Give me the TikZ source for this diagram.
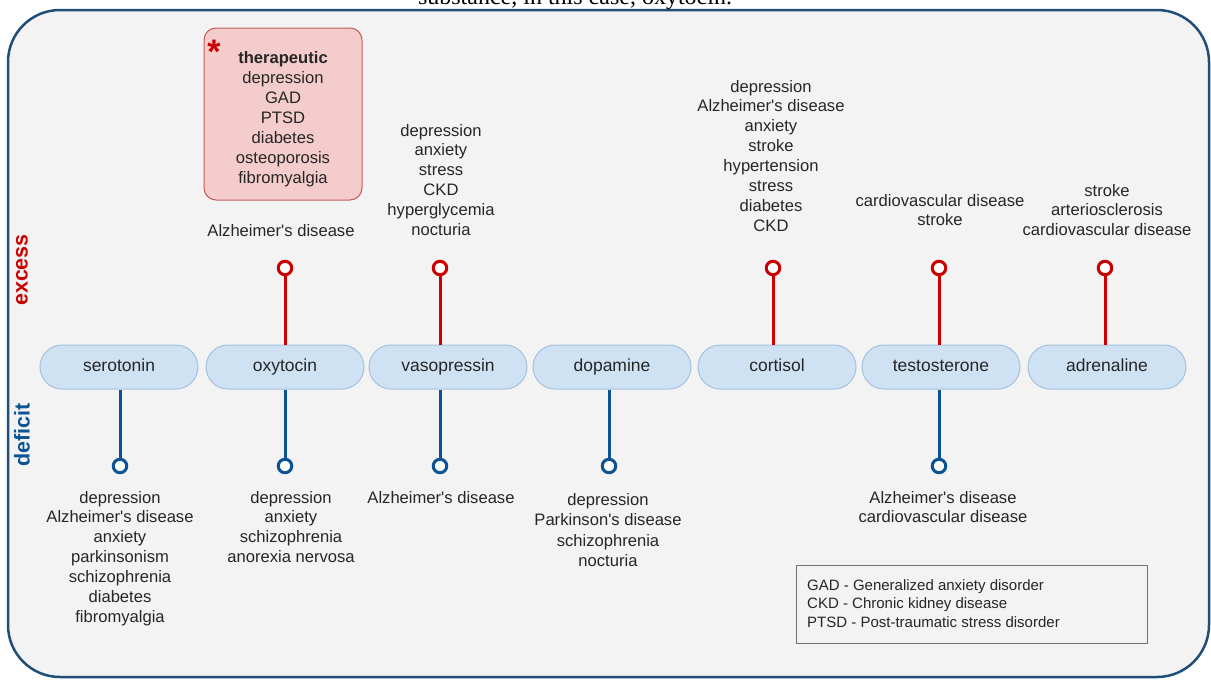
\documentclass[tikz,border=0pt]{standalone}
\usepackage{fontspec}
\setmainfont{Liberation Sans}
\newfontfamily\capfont{Liberation Serif}
\definecolor{bg}{HTML}{F3F3F3}
\definecolor{frameblue}{HTML}{1F4E79}
\definecolor{nodefill}{HTML}{CFE2F3}
\definecolor{nodeedge}{HTML}{A4C2E0}
\definecolor{exred}{HTML}{CC0000}
\definecolor{defblue}{HTML}{0B5394}
\definecolor{boxfill}{HTML}{F4CCCC}
\definecolor{boxred}{HTML}{C85A5A}
\definecolor{txt}{HTML}{262626}
\definecolor{legendgray}{HTML}{707070}
\newcommand\apos{\textquotesingle}
\begin{document}
\begin{tikzpicture}[x=1pt,y=-1pt,
  hormone/.style={draw=nodeedge, fill=nodefill, line width=1pt, rounded corners=22pt,
    minimum width=158pt, minimum height=44pt, inner sep=0pt,
    text height=12.5pt, text depth=3.5pt,
    font=\fontsize{17.5}{20}\selectfont, text=txt},
  list/.style={align=center, anchor=base, inner sep=0pt,
    font=\fontsize{16.6}{19.9}\selectfont, text=txt},
  excesscap/.style={circle, draw=exred, line width=3pt, fill=white,
    minimum size=13.5pt, inner sep=0pt},
  deficitcap/.style={circle, draw=defblue, line width=3pt, fill=white,
    minimum size=13.5pt, inner sep=0pt},
  excessline/.style={draw=exred, line width=3pt},
  deficitline/.style={draw=defblue, line width=3pt},
  sidelabel/.style={rotate=90, font=\bfseries\fontsize{21.5}{21.5}\selectfont}]

\useasboundingbox (0,0) rectangle (1211,680);
\clip (0,0) rectangle (1211,680);
\fill[white] (0,0) rectangle (1211,680);

% caption line running off the top edge
\node[anchor=base, inner sep=0pt, font=\capfont\fontsize{24}{24}\selectfont] (caption)
  at (575,5) {substance, in this case, oxytocin.};

% outer panel
\draw[draw=frameblue, line width=2.5pt, fill=bg, rounded corners=52pt]
  (8,10) rectangle (1209,677);

% side labels
\node[sidelabel, text=exred] (excesslbl) at (22,270) {excess};
\node[sidelabel, text=defblue] (deficitlbl) at (22,435) {deficit};

% hormones
\node[hormone] (ser) at (119,367) {serotonin};
\node[hormone] (oxy) at (285,367) {oxytocin};
\node[hormone] (vas) at (448,367) {vasopressin};
\node[hormone] (dop) at (612,367) {dopamine};
\node[hormone] (cor) at (777,367) {cortisol};
\node[hormone] (tes) at (941,367) {testosterone};
\node[hormone] (adr) at (1107,367) {adrenaline};

% excess markers
\node[excesscap] (oxyE) at (285,268) {};
\node[excesscap] (vasE) at (440,268) {};
\node[excesscap] (corE) at (773,268) {};
\node[excesscap] (tesE) at (939,268) {};
\node[excesscap] (adrE) at (1105,268) {};
\foreach \c/\h in {oxyE/oxy, vasE/vas, corE/cor, tesE/tes, adrE/adr}
  \draw[excessline] (\c.south) -- (\c.south |- \h.north);

% deficit markers
\node[deficitcap] (serD) at (120,466) {};
\node[deficitcap] (oxyD) at (285,466) {};
\node[deficitcap] (vasD) at (440,466) {};
\node[deficitcap] (dopD) at (609,466) {};
\node[deficitcap] (tesD) at (939,466) {};
\foreach \c/\h in {serD/ser, oxyD/oxy, vasD/vas, dopD/dop, tesD/tes}
  \draw[deficitline] (\c.north |- \h.south) -- (\c.north);

% therapeutic box
\draw[draw=boxred, fill=boxfill, line width=1pt, rounded corners=12pt]
  (204,28) rectangle (362,200);
\node[anchor=base, inner sep=0pt, text=exred, font=\bfseries\fontsize{34}{34}\selectfont]
  (star) at (214,63) {*};
% multi-line lists are placed by the baseline of their last line
\node[list, font=\fontsize{16.6}{20}\selectfont] (therapy) at (283,183)
  {\textbf{therapeutic}\\depression\\GAD\\PTSD\\diabetes\\osteoporosis\\fibromyalgia};

% excess lists
\node[list] (oxyEx) at (281,236) {Alzheimer\apos s disease};
\node[list] (vasEx) at (441,235.5)
  {depression\\anxiety\\stress\\CKD\\hyperglycemia\\nocturia};
\node[list] (corEx) at (771,231.3)
  {depression\\Alzheimer\apos s disease\\anxiety\\stroke\\hypertension\\stress\\diabetes\\CKD};
\node[list] (tesEx) at (940,225.9) {cardiovascular disease\\stroke};
\node[list] (adrEx) at (1107,235.8) {stroke\\arteriosclerosis\\cardiovascular disease};

% deficit lists
\node[list] (serDf) at (120,622.4)
  {depression\\Alzheimer\apos s disease\\anxiety\\parkinsonism\\schizophrenia\\diabetes\\fibromyalgia};
\node[list] (oxyDf) at (291,562.7) {depression\\anxiety\\schizophrenia\\anorexia nervosa};
\node[list] (vasDf) at (441,503) {Alzheimer\apos s disease};
\node[list, font=\fontsize{16.6}{20.5}\selectfont] (dopDf) at (608,566.5)
  {depression\\Parkinson\apos s disease\\schizophrenia\\nocturia};
\node[list] (tesDf) at (943,522.9) {Alzheimer\apos s disease\\cardiovascular disease};

% abbreviations
\draw[draw=legendgray, line width=0.8pt] (796,565) rectangle (1147,643);
\node[anchor=base west, align=left, inner sep=0pt, text=txt,
  font=\fontsize{15}{18.5}\selectfont] (legend) at (807,627)
  {GAD - Generalized anxiety disorder\\CKD - Chronic kidney disease\\PTSD - Post-traumatic stress disorder};
\end{tikzpicture}
\end{document}
